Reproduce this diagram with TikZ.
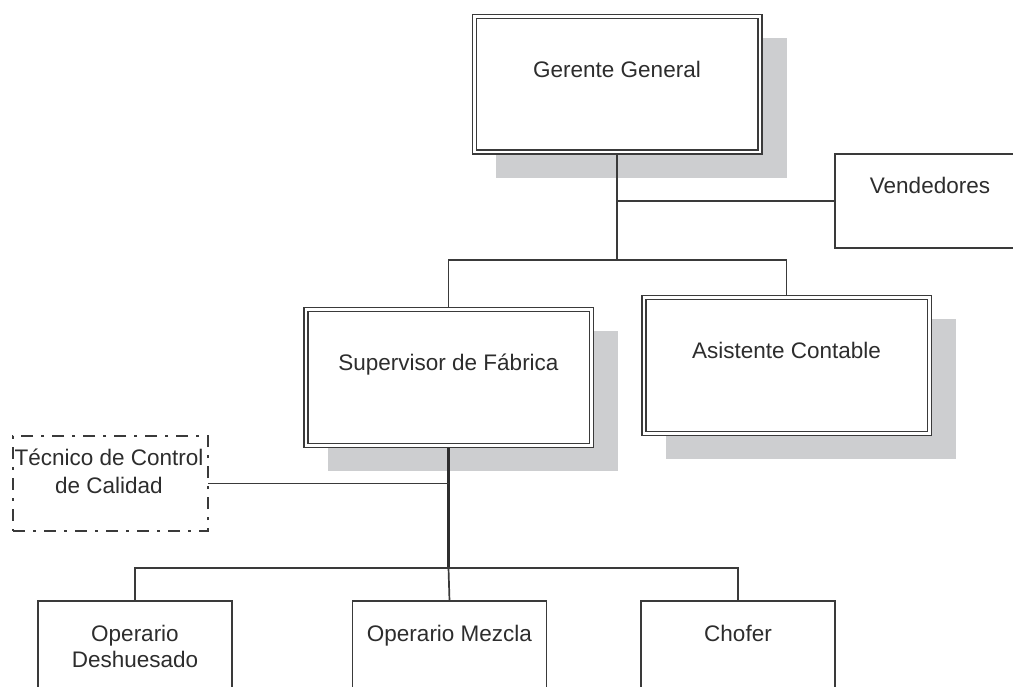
\documentclass[tikz,border=0pt]{standalone}
\usepackage{fontspec}
\setmainfont{Liberation Sans}
\usetikzlibrary{calc,backgrounds}
\definecolor{ink}{RGB}{45,45,45}
\definecolor{edge}{RGB}{58,58,58}
\definecolor{shade}{RGB}{205,206,208}
\begin{document}
\begin{tikzpicture}[x=1pt,y=-1pt,
  font=\fontsize{22.5}{26}\selectfont,
  dbox/.style={rectangle, draw=edge, fill=white, double=white, line width=1.5pt,
    double distance=2.5pt, minimum width=285.5pt, minimum height=135.5pt,
    outer sep=0pt, inner sep=0pt},
  sbox/.style={rectangle, draw=edge, fill=white, line width=1.7pt, outer sep=0pt,
    inner sep=0pt},
  qbox/.style={sbox, line width=1.9pt,
    dash pattern=on 12pt off 8pt on 3pt off 8pt},
  caption/.style={anchor=base, text=ink, inner sep=0pt, align=center},
  link/.style={draw=edge, line width=1.7pt},
  trunk/.style={draw=edge!80!black, line width=2.8pt},
  dropshadow/.style={fill=shade}]

\path[use as bounding box, clip] (0,0) rectangle (1013,687);

% management level
\node[dbox, label={[caption, yshift=-60.3pt]north:Gerente General}]
  (gg) at (617,84.5) {};
\node[sbox, minimum width=190pt, minimum height=94pt,
  label={[caption, yshift=-40pt]north:Vendedores}]
  (ven) at (930,201) {};

% second level
\node[dbox, label={[caption, yshift=-60.3pt]north:Supervisor de Fábrica}]
  (sup) at (448.5,377.5) {};
\node[dbox, label={[caption, yshift=-60.3pt]north:Asistente Contable}]
  (asi) at (786.5,365.5) {};

% staff position (label base sits on its last line)
\node[qbox, minimum width=195pt, minimum height=95pt,
  label={[caption, font=\fontsize{22.5}{28}\selectfont, yshift=-57pt, xshift=-1.5pt]north:{Técnico de Control\\de Calidad}}]
  (tec) at (110.5,483.5) {};

% operating level
\node[sbox, minimum width=194pt, minimum height=140pt,
  label={[caption, yshift=-66pt]north:{Operario\\Deshuesado}}]
  (opd) at (135,671) {};
\node[sbox, minimum width=194pt, minimum height=140pt,
  label={[caption, yshift=-40pt]north:Operario Mezcla}]
  (opm) at (449.5,671) {};
\node[sbox, minimum width=194pt, minimum height=140pt,
  label={[caption, yshift=-40pt]north:Chofer}]
  (cho) at (738,671) {};

% drop shadows behind the double-framed boxes
\begin{scope}[on background layer]
  \fill[white] (0,0) rectangle (1013,687);
  \foreach \b in {gg,sup,asi}
    \fill[dropshadow] ($(\b.north west)+(21.8,20.8)$)
      rectangle ($(\b.south east)+(27.2,26.2)$);
\end{scope}

% junction points of the connectors
\coordinate (topbar) at ($(gg.south)+(0,107.5)$);
\coordinate (botbar) at ($(sup.south)+(0,122.5)$);

% connectors
\draw[link, line width=2.2pt] ([yshift=-2.7pt]gg.south) -- (topbar);
\draw[link] (gg.south |- ven.west) -- (ven.west);
\draw[link] (topbar) -| ([yshift=2.7pt]sup.north);
\draw[link] (topbar) -| ([yshift=2.7pt]asi.north);
\draw[trunk] ([yshift=-2.7pt]sup.south) -- (botbar);
\draw[link] (tec.east) -- (tec.east -| sup.south);
\draw[link, line width=2pt] (botbar) -| (opd.north);
\draw[link, line width=2pt] (botbar) -| (cho.north);
\draw[link] (botbar) -- (opm.north);
\end{tikzpicture}
\end{document}
